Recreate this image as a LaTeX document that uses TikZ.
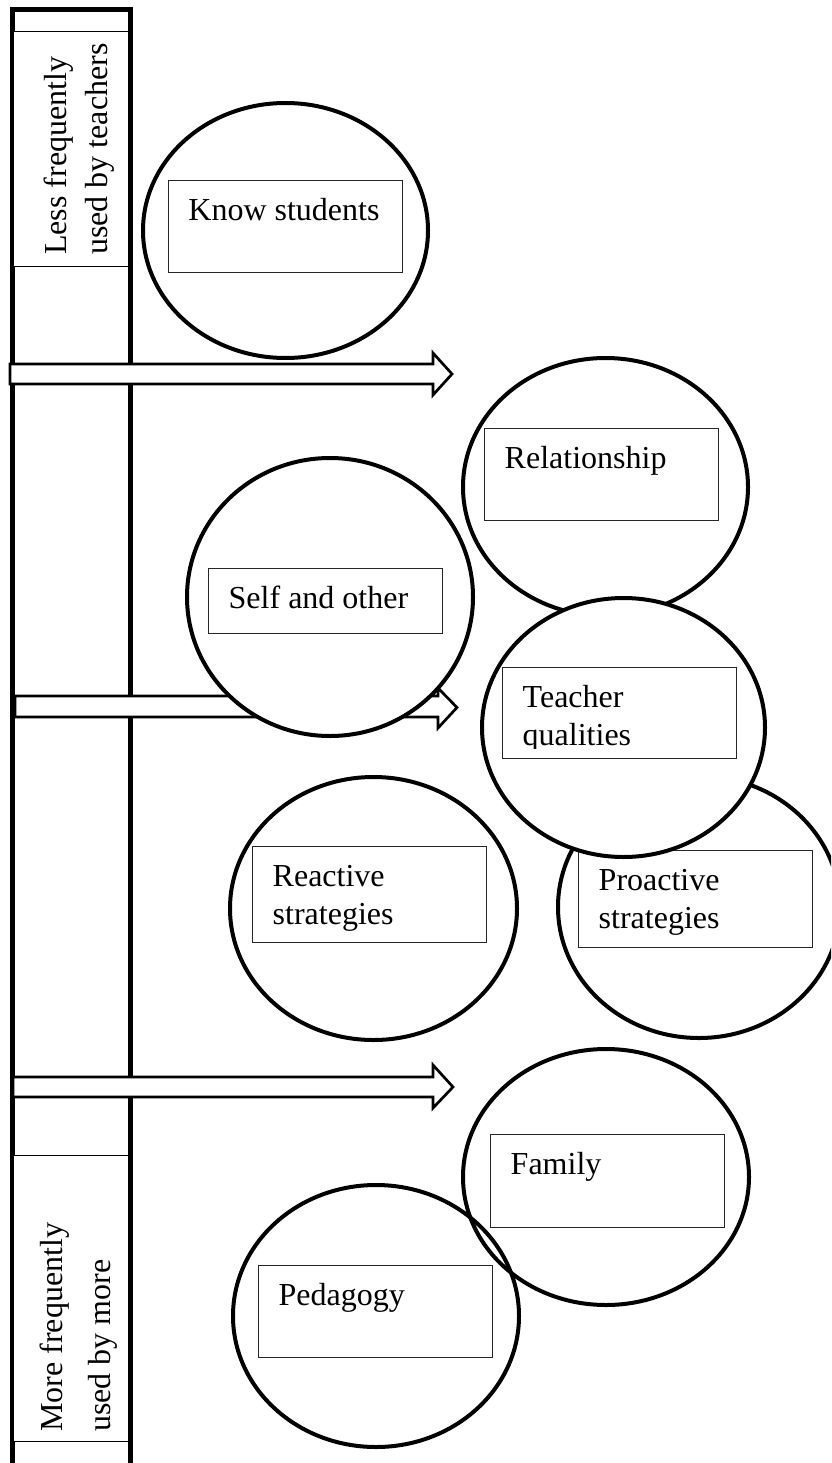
\documentclass[tikz,border=0pt]{standalone}
\usepackage{fontspec}
\setmainfont{Liberation Serif}
\usetikzlibrary{shapes.geometric,calc}
\begin{document}
\begin{tikzpicture}[x=1pt,y=-1pt,
  bubble/.style={draw=black,line width=4pt,ellipse,fill=white,inner sep=0pt},
  hollowbubble/.style={bubble,fill=none},
  tbox/.style={draw=black!85,line width=1pt,rectangle,anchor=north west,inner sep=0pt,minimum width=234pt},
  tlabel/.style={anchor=base west,inner sep=0pt,align=left,font=\fontsize{32}{38}\selectfont},
  barlabel/.style={rotate=90,anchor=base west,inner sep=0pt,align=left},
  sidebox/.style={draw=black,fill=white,line width=1pt},
  blockarrow/.style={draw=black,fill=white,line width=2.7pt,line join=miter}
]
\useasboundingbox (0,0) rectangle (831,1463);
\clip (0,0) rectangle (831,1463);

% frequency scale on the left
\draw[line width=5pt] (12.5,1475) |- (130,9.5) -- (130,1475);
\draw[sidebox] (13,32) rectangle (128,266);
\draw[sidebox] (13,1155) rectangle (128,1441);
% the anchor sits on the baseline of the last line
\node[barlabel,font=\fontsize{32}{40.5}\selectfont] (less) at (107,255)
  {Less frequently\\used by teachers};
\node[barlabel,font=\fontsize{32}{48}\selectfont] (more) at (110,1432)
  {More frequently\\used by more};

% block arrows
\draw[blockarrow] (10,364) -- (433,364) -- (433,353) -- (452,374)
  -- (433,395) -- (433,384) -- (10,384) -- cycle;
\draw[blockarrow] (15,696) -- (438,696) -- (438,688) -- (457,707.5)
  -- (438,728) -- (438,717) -- (15,717) -- cycle;
\draw[blockarrow] (13,1077) -- (433,1077) -- (433,1065) -- (453,1087)
  -- (433,1108) -- (433,1097) -- (13,1097) -- cycle;

% themes
\node[bubble,minimum width=285pt,minimum height=255pt] (know) at (285.5,230.5) {};
\node[tbox,minimum height=92pt] (knowbox) at (167.7,180) {};
\node[tlabel] (knowtext) at ($(knowbox.north west)+(20.5,40.5)$) {Know students};

\node[bubble,minimum width=285pt,minimum height=258pt] (rel) at (605.5,487) {};
\node[tbox,minimum height=92pt] (relbox) at (484,428) {};
\node[tlabel] (reltext) at ($(relbox.north west)+(20.5,40.5)$) {Relationship};

\node[bubble,minimum width=286pt,minimum height=278pt] (self) at (330,597) {};
\node[tbox,minimum height=65pt] (selfbox) at (208,568) {};
\node[tlabel] (selftext) at ($(selfbox.north west)+(20.5,40.5)$) {Self and other};

\node[bubble,minimum width=282pt,minimum height=262pt] (pro) at (699,907) {};
\node[tbox,minimum height=97pt] (probox) at (578,850) {};
\node[tlabel] (protext) at ($(probox.north west)+(20.5,78.5)$) {Proactive\\strategies};

\node[bubble,minimum width=283pt,minimum height=259pt] (teach) at (623.5,727.5) {};
\node[tbox,minimum height=91pt] (teachbox) at (502,667) {};
% the text frame cuts the descenders of the last line
\begin{scope}
  \clip (teachbox.north west) rectangle ($(teachbox.south east)+(0,-11)$);
  \node[tlabel] (teachtext) at ($(teachbox.north west)+(20.5,78.5)$) {Teacher\\qualities};
\end{scope}

\node[bubble,minimum width=287pt,minimum height=263pt] (react) at (373.5,908.5) {};
\node[tbox,minimum height=96pt] (reactbox) at (252,846) {};
\node[tlabel] (reacttext) at ($(reactbox.north west)+(20.5,78.5)$) {Reactive\\strategies};

\node[bubble,minimum width=286pt,minimum height=256pt] (fam) at (606,1177) {};
\node[tbox,minimum height=93pt] (fambox) at (490,1134) {};
\node[tlabel] (famtext) at ($(fambox.north west)+(20.5,40.5)$) {Family};

\node[hollowbubble,minimum width=286pt,minimum height=262pt] (ped) at (376,1316) {};
\node[tbox,minimum height=92pt] (pedbox) at (258,1265) {};
\node[tlabel] (pedtext) at ($(pedbox.north west)+(20.5,40.5)$) {Pedagogy};
\end{tikzpicture}
\end{document}
